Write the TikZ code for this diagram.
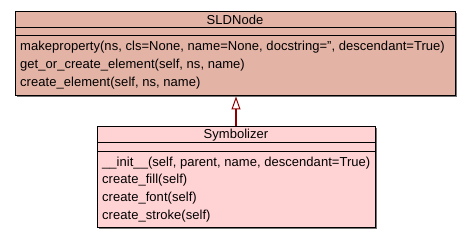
\documentclass[tikz,border=0pt]{standalone}
\usepackage{fontspec}
\setmainfont{Liberation Sans}[LetterSpace=0.3]
\usetikzlibrary{arrows.meta,shadows}
\definecolor{node_salmon}{RGB}{227,179,166}
\definecolor{node_pink}{RGB}{255,210,212}
\definecolor{link_red}{RGB}{139,0,0}

\begin{document}
\begin{tikzpicture}[x=1pt, y=-1pt, font=\fontsize{13}{15}\selectfont,
    classbox/.style={draw=black, line width=1pt, inner sep=0pt,
      drop shadow={shadow xshift=1.5pt, shadow yshift=-1.5pt, fill=black!55, opacity=1}},
    method/.style={anchor=west, inner sep=0pt}]
        \useasboundingbox (0,0) rectangle (469,240);
        % base class
        \node[classbox, fill=node_salmon, minimum width=440pt, minimum height=84pt] (sldnode) at (235,54) {};
        \node (sldtitle) at (235,20) {SLDNode};
        \draw[line width=1pt] (15,28)--(455,28);
        \draw[line width=1pt] (15,36)--(455,36);
        \node[method] (m1) at (20,47) {makeproperty(ns, cls=None, name=None, docstring=\char39\char39, descendant=True)};
        \node[method] (m2) at (20,65) {get\_or\_create\_element(self, ns, name)};
        \node[method] (m3) at (20,83) {create\_element(self, ns, name)};
        % subclass
        \node[classbox, fill=node_pink, minimum width=278pt, minimum height=101pt] (symbolizer) at (236,177.5) {};
        \node (symtitle) at (236,135) {Symbolizer};
        \draw[line width=1pt] (97,143)--(375,143);
        \draw[line width=1pt] (97,152)--(375,152);
        \node[method] (s1) at (102,163) {\_\_init\_\_(self, parent, name, descendant=True)};
        \node[method] (s2) at (102,180) {create\_fill(self)};
        \node[method] (s3) at (102,198) {create\_font(self)};
        \node[method] (s4) at (102,216) {create\_stroke(self)};
        % inheritance
        \draw[link_red, line width=2pt, -{Triangle[open, length=13pt, width=9pt, line width=1pt, fill=white]}]
          (symbolizer.north) -- (symbolizer.north |- sldnode.south);
      \end{tikzpicture}
\end{document}
